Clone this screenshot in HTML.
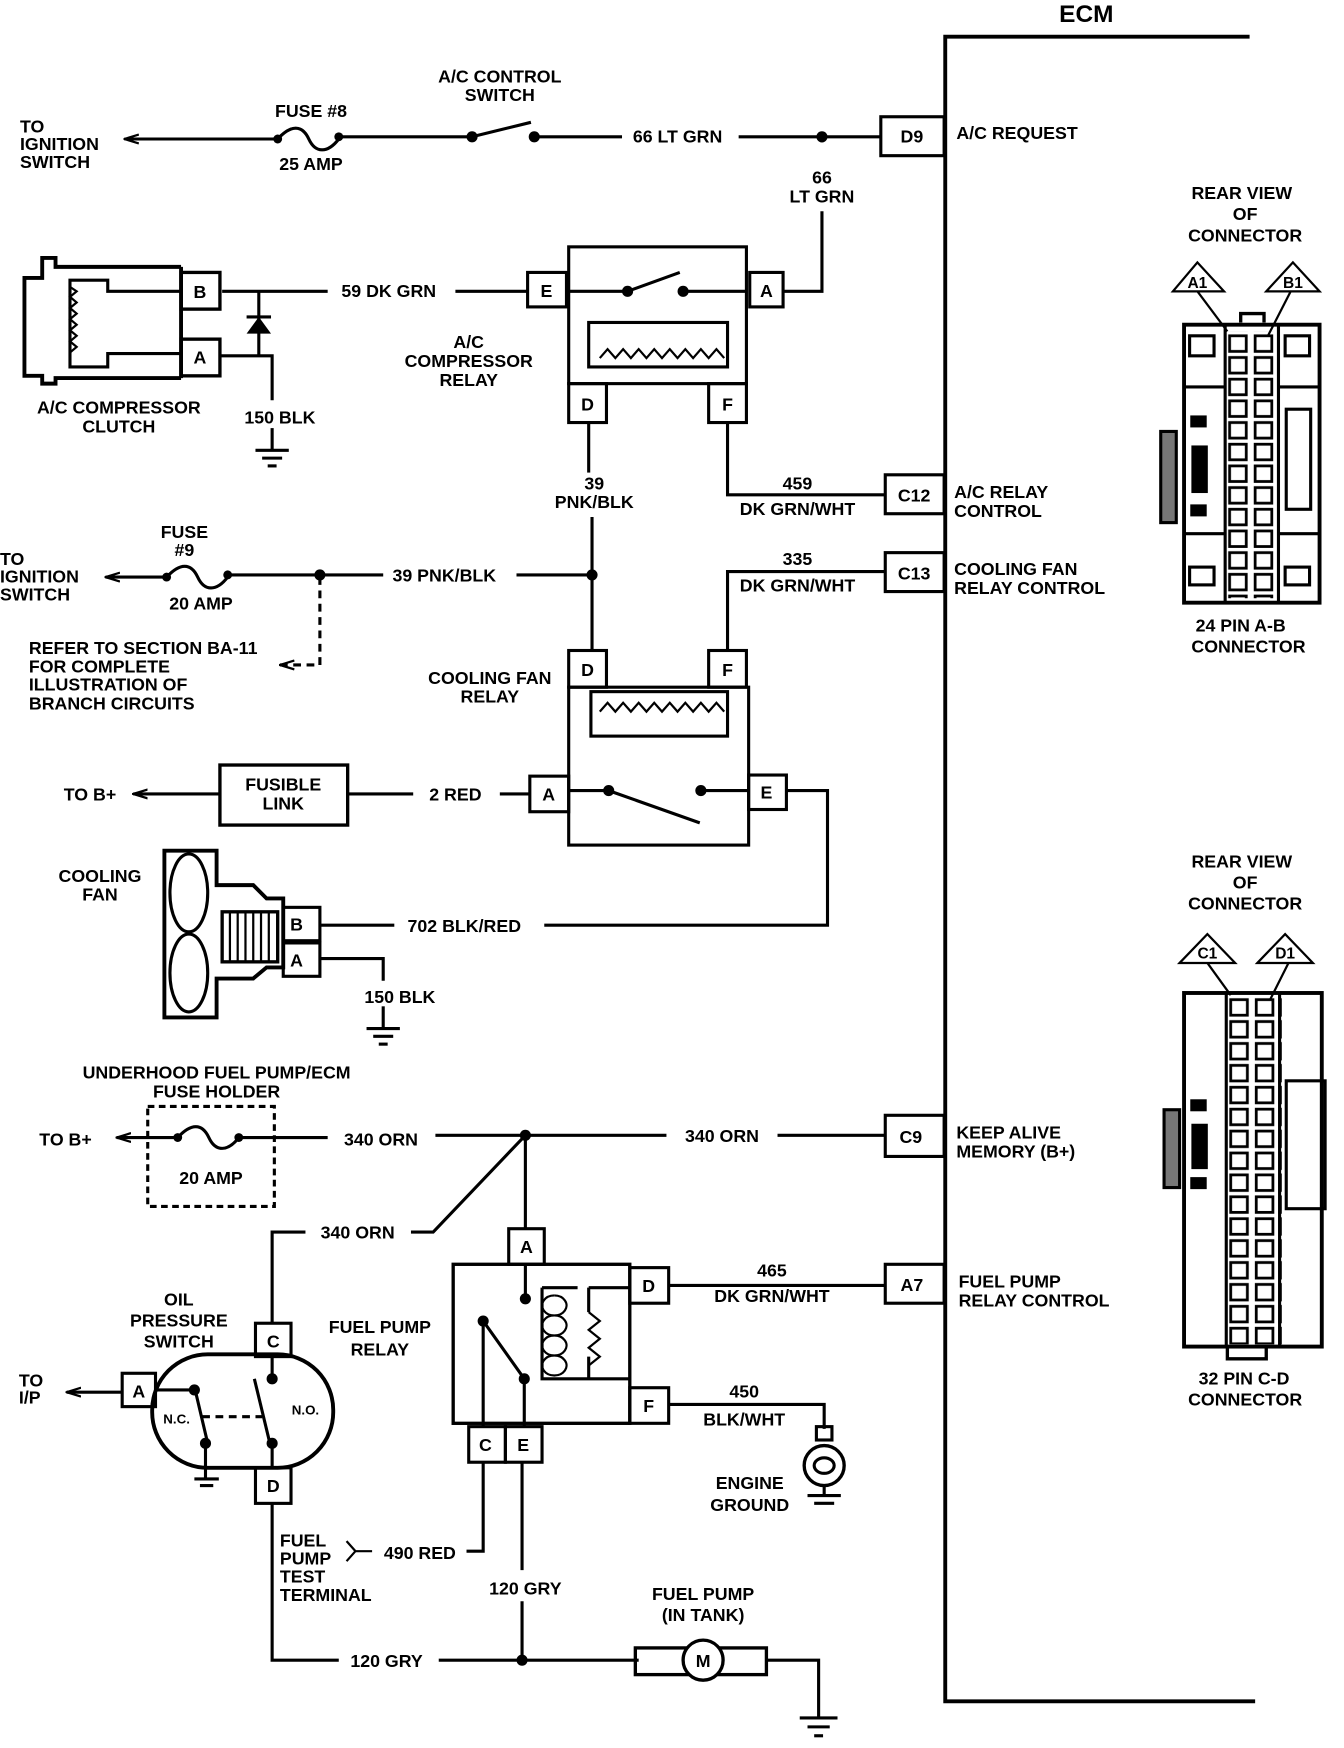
<!DOCTYPE html>
<html><head><meta charset="utf-8"><style>
html,body{margin:0;padding:0;background:#fff;}
svg{display:block;}
text{font-family:"Liberation Sans",sans-serif;font-weight:bold;font-size:16px;fill:#000;text-anchor:middle;}
.l{text-anchor:start;}
</style></head><body>
<svg width="1344" height="1748" viewBox="0 0 1210 1572" preserveAspectRatio="none" xmlns="http://www.w3.org/2000/svg">
<defs>
<marker id="ar" markerWidth="14" markerHeight="10" refX="1" refY="5" orient="auto" markerUnits="userSpaceOnUse"><path d="M14,1 L1,5 L14,9" fill="none" stroke="#000" stroke-width="2"/></marker>
<pattern id="pins" x="1105" y="300" width="23" height="19.5" patternUnits="userSpaceOnUse"><rect x="2" y="2" width="15" height="14" fill="#fff" stroke="#000" stroke-width="2.5"/></pattern>
<pattern id="pins2" x="1106" y="897" width="23" height="19.7" patternUnits="userSpaceOnUse"><rect x="2" y="2" width="15" height="14" fill="#fff" stroke="#000" stroke-width="2.5"/></pattern>
</defs>
<g fill="none" stroke="#000" stroke-width="2.8">
<path d="M1125,33 H851 V1530 H1130" stroke-width="3.5"/>
<line x1="112" y1="125" x2="250" y2="125" marker-start="url(#ar)"/>
<path d="M250,125 C262,112 272,112 278,125 S295,138 305,125"/>
<line x1="305" y1="123" x2="425" y2="123"/>
<line x1="425" y1="123" x2="478" y2="110"/>
<line x1="481" y1="123" x2="560" y2="123"/>
<line x1="665" y1="123" x2="793" y2="123"/>
<rect x="793" y="105" width="57" height="35"/>
<path d="M740,123 V128"/>
<path d="M740,190 V262 H705"/>
<rect x="512" y="222" width="160" height="123"/>
<rect x="475" y="245" width="35" height="31"/>
<rect x="675" y="245" width="30" height="31"/>
<rect x="512" y="345" width="34" height="35"/>
<rect x="638" y="345" width="34" height="35"/>
<path d="M512,262 H565 L612,245"/>
<path d="M615,262 H672"/>
<rect x="530" y="290" width="125" height="40"/>
<path d="M540,322 l7,-8 7,8 7,-8 7,8 7,-8 7,8 7,-8 7,8 7,-8 7,8 7,-8 7,8 7,-8 7,8 7,-8 7,8" stroke-width="2"/>
<line x1="410" y1="262" x2="475" y2="262"/>
<line x1="200" y1="262" x2="295" y2="262"/>
<path d="M163,240 H50 V232 H38 V250 H22 V338 H38 V345 H50 V340 H163" stroke-width="3.5"/>
<path d="M163,262 H97 V252 H63 V330 H97 V318 H163"/>
<path d="M63,258 l6,4 -6,5 6,5 -6,5 6,5 -6,5 6,5 -6,5 6,5 -6,5 6,5 -6,5" stroke-width="2"/>
<line x1="163" y1="240" x2="163" y2="340" stroke-width="3.5"/>
<rect x="163" y="245" width="35" height="33" stroke-width="3"/>
<rect x="163" y="305" width="35" height="33" stroke-width="3"/>
<line x1="233" y1="262" x2="233" y2="320"/>
<line x1="222" y1="285" x2="244" y2="285"/>
<path d="M198,320 H245 V360"/>
<line x1="245" y1="385" x2="245" y2="405"/>
<line x1="230" y1="405" x2="260" y2="405"/><line x1="236" y1="412" x2="254" y2="412"/><line x1="241" y1="419" x2="249" y2="419"/>
<line x1="530" y1="380" x2="530" y2="425"/>
<line x1="533" y1="465" x2="533" y2="585"/>
<path d="M655,380 V445 H797"/>
<rect x="797" y="427" width="53" height="35"/>
<path d="M655,585 V514 H797"/>
<rect x="797" y="497" width="53" height="35"/>
<line x1="95" y1="519" x2="150" y2="519" marker-start="url(#ar)"/>
<path d="M150,519 C162,506 172,506 178,519 S195,532 205,519"/>
<line x1="205" y1="517" x2="345" y2="517"/>
<line x1="465" y1="517" x2="533" y2="517"/>
<path d="M252,598 H288 V517" stroke-dasharray="7,5" marker-start="url(#ar)"/>
<rect x="512" y="618" width="162" height="142"/>
<rect x="512" y="585" width="34" height="33"/>
<rect x="638" y="585" width="34" height="33"/>
<rect x="532" y="622" width="123" height="40"/>
<path d="M540,640 l7,-8 7,8 7,-8 7,8 7,-8 7,8 7,-8 7,8 7,-8 7,8 7,-8 7,8 7,-8 7,8 7,-8 7,8" stroke-width="2"/>
<rect x="477" y="698" width="35" height="32"/>
<rect x="674" y="697" width="34" height="31"/>
<path d="M512,711 H548 L630,740"/>
<path d="M631,711 H674"/>
<path d="M708,711 H745 V832 H490"/>
<rect x="198" y="688" width="115" height="54" stroke-width="3"/>
<line x1="120" y1="714" x2="198" y2="714" marker-start="url(#ar)"/>
<line x1="313" y1="714" x2="372" y2="714"/>
<line x1="450" y1="714" x2="477" y2="714"/>
<path d="M255,808 H240 L228,796 H195 V765 H148 V915 H195 V880 H228 L240,870 H255 Z" stroke-width="3.5"/>
<ellipse cx="170" cy="803" rx="17" ry="35"/>
<ellipse cx="170" cy="875" rx="17" ry="35"/>
<rect x="200" y="820" width="50" height="45" stroke-width="3"/>
<path d="M207,820 V865 M214,820 V865 M221,820 V865 M228,820 V865 M235,820 V865 M242,820 V865" stroke-width="2"/>
<rect x="255" y="816" width="33" height="30"/>
<rect x="255" y="848" width="33" height="30"/>
<line x1="288" y1="832" x2="355" y2="832"/>
<path d="M288,862 H345 V882"/>
<line x1="345" y1="905" x2="345" y2="925"/>
<line x1="330" y1="925" x2="360" y2="925"/><line x1="336" y1="932" x2="354" y2="932"/><line x1="341" y1="939" x2="349" y2="939"/>
<rect x="133" y="995" width="114" height="90" stroke-dasharray="6,4"/>
<line x1="105" y1="1023" x2="160" y2="1023" marker-start="url(#ar)"/>
<path d="M160,1023 C172,1010 182,1010 188,1023 S205,1036 215,1023"/>
<line x1="215" y1="1023" x2="295" y2="1023"/>
<line x1="392" y1="1021" x2="600" y2="1021"/>
<line x1="700" y1="1021" x2="797" y2="1021"/>
<rect x="797" y="1003" width="53" height="37"/>
<path d="M473,1021 L390,1108 H370"/>
<path d="M275,1108 H245 V1190"/>
<line x1="473" y1="1021" x2="473" y2="1105"/>
<rect x="458" y="1105" width="32" height="32"/>
<rect x="408" y="1137" width="159" height="143" stroke-width="3"/>
<rect x="567" y="1140" width="35" height="32"/>
<rect x="567" y="1248" width="35" height="32"/>
<rect x="422" y="1283" width="33" height="32"/>
<rect x="455" y="1283" width="33" height="32"/>
<line x1="473" y1="1137" x2="473" y2="1168"/>
<path d="M435,1283 V1188 L472,1240 M472,1240 V1283"/>
<path d="M488,1158 V1240 H567 M488,1158 H520 M530,1158 H567 M530,1158 V1180 M530,1240 V1220"/>
<path d="M530,1180 l10,8 -10,8 10,8 -10,8 10,8 -10,8" stroke-width="2"/>
<path d="M499,1165 a11,9 0 1,0 0.1,0 M499,1183 a11,9 0 1,0 0.1,0 M499,1201 a11,9 0 1,0 0.1,0 M499,1219 a11,9 0 1,0 0.1,0" stroke-width="2"/>
<line x1="602" y1="1156" x2="797" y2="1156"/>
<rect x="797" y="1137" width="53" height="35"/>
<path d="M602,1263 H742 V1285"/>
<rect x="735" y="1283" width="14" height="12"/>
<circle cx="742" cy="1318" r="18" stroke-width="3"/>
<ellipse cx="742" cy="1318" rx="9" ry="7"/>
<path d="M742,1336 V1345"/>
<line x1="727" y1="1345" x2="757" y2="1345"/><line x1="733" y1="1352" x2="751" y2="1352"/>
<rect x="137" y="1218" width="163" height="102" rx="50" stroke-width="3.5"/>
<rect x="230" y="1190" width="32" height="30"/>
<rect x="110" y="1235" width="30" height="30"/>
<rect x="230" y="1320" width="32" height="32"/>
<line x1="60" y1="1252" x2="110" y2="1252" marker-start="url(#ar)"/>
<path d="M140,1250 H172"/>
<line x1="175" y1="1247" x2="187" y2="1298"/>
<line x1="185" y1="1298" x2="185" y2="1330"/>
<line x1="229" y1="1240" x2="243" y2="1298"/>
<line x1="245" y1="1220" x2="245" y2="1240"/>
<line x1="245" y1="1298" x2="245" y2="1320"/>
<line x1="182" y1="1274" x2="236" y2="1274" stroke-dasharray="7,5"/>
<line x1="175" y1="1330" x2="197" y2="1330"/><line x1="180" y1="1336" x2="192" y2="1336"/>
<path d="M435,1315 V1395 H420"/>
<path d="M312,1386 L320,1395 L312,1404 M320,1395 H335" stroke-width="2"/>
<path d="M470,1315 V1412 M470,1440 V1493"/>
<path d="M245,1352 V1493 H305"/>
<line x1="395" y1="1493" x2="575" y2="1493"/>
<rect x="572" y="1482" width="118" height="24" stroke-width="3"/>
<circle cx="633" cy="1493" r="18" fill="#fff" stroke-width="3"/>
<path d="M690,1493 H737 V1545"/>
<line x1="720" y1="1545" x2="754" y2="1545"/><line x1="727" y1="1553" x2="747" y2="1553"/><line x1="733" y1="1561" x2="741" y2="1561"/>
<path d="M1056,262 L1078,236 L1102,262 Z M1140,262 L1164,236 L1188,262 Z" stroke-width="2"/>
<line x1="1078" y1="262" x2="1105" y2="298" stroke-width="2"/>
<line x1="1162" y1="262" x2="1140" y2="305" stroke-width="2"/>
<rect x="1066" y="292" width="122" height="250" stroke-width="3.5"/>
<rect x="1102" y="298" width="50" height="240" fill="url(#pins)" stroke="none"/>
<line x1="1103" y1="292" x2="1103" y2="542"/><line x1="1151" y1="292" x2="1151" y2="542"/>
<path d="M1066,348 H1103 M1151,348 H1188 M1066,480 H1103 M1151,480 H1188"/>
<rect x="1071" y="302" width="22" height="18"/><rect x="1157" y="302" width="22" height="18"/>
<rect x="1071" y="510" width="22" height="16"/><rect x="1157" y="510" width="22" height="16"/>
<rect x="1158" y="368" width="22" height="90"/>
<rect x="1045" y="388" width="14" height="82" fill="#777"/>
<rect x="1073" y="375" width="12" height="8" fill="#000"/><rect x="1074" y="402" width="12" height="40" fill="#000"/><rect x="1073" y="455" width="12" height="8" fill="#000"/>
<path d="M1117,290 V282 H1138 V290" stroke-width="3"/>
<path d="M1062,866 L1087,840 L1112,866 Z M1132,866 L1157,840 L1182,866 Z" stroke-width="2"/>
<line x1="1087" y1="866" x2="1108" y2="895" stroke-width="2"/>
<line x1="1160" y1="866" x2="1143" y2="900" stroke-width="2"/>
<rect x="1066" y="893" width="124" height="318" stroke-width="3.5"/>
<rect x="1104" y="895" width="50" height="314" fill="url(#pins2)" stroke="none"/>
<line x1="1104" y1="893" x2="1104" y2="1210"/><line x1="1152" y1="893" x2="1152" y2="1210"/>
<rect x="1158" y="972" width="35" height="115"/>
<rect x="1048" y="998" width="14" height="70" fill="#777"/>
<rect x="1073" y="990" width="12" height="8" fill="#000"/><rect x="1074" y="1012" width="12" height="38" fill="#000"/><rect x="1073" y="1060" width="12" height="8" fill="#000"/>
<path d="M1105,1212 V1222 H1140 V1212" stroke-width="3"/>
</g>
<g fill="#000">
<circle cx="250" cy="125" r="4"/><circle cx="305" cy="123" r="4"/>
<circle cx="425" cy="123" r="5"/><circle cx="481" cy="123" r="5"/><circle cx="740" cy="123" r="5"/>
<circle cx="565" cy="262" r="5"/><circle cx="615" cy="262" r="5"/>
<path d="M222,300 L244,300 L233,285 Z"/>
<circle cx="150" cy="519" r="4"/><circle cx="205" cy="517" r="4"/><circle cx="288" cy="517" r="5"/><circle cx="533" cy="517" r="5"/>
<circle cx="548" cy="711" r="5"/><circle cx="631" cy="711" r="5"/>
<circle cx="160" cy="1023" r="4"/><circle cx="215" cy="1023" r="4"/><circle cx="473" cy="1021" r="5"/>
<circle cx="473" cy="1168" r="5"/><circle cx="435" cy="1188" r="5"/><circle cx="472" cy="1240" r="5"/>
<circle cx="175" cy="1250" r="5"/><circle cx="185" cy="1298" r="5"/><circle cx="245" cy="1240" r="5"/><circle cx="245" cy="1298" r="5"/>
<circle cx="470" cy="1493" r="5"/>
</g>
<text x="978" y="20" style="font-size:22px">ECM</text>
<text class="l" x="18" y="119">TO</text><text class="l" x="18" y="135">IGNITION</text><text class="l" x="18" y="151">SWITCH</text>
<text x="280" y="105">FUSE #8</text><text x="280" y="153">25 AMP</text>
<text x="450" y="74">A/C CONTROL</text><text x="450" y="91">SWITCH</text>
<text x="610" y="128">66 LT GRN</text>
<text x="821" y="128">D9</text>
<text class="l" x="861" y="125">A/C REQUEST</text>
<text x="740" y="165">66</text><text x="740" y="182">LT GRN</text>
<text x="350" y="267">59 DK GRN</text>
<text x="492" y="267">E</text><text x="690" y="267">A</text>
<text x="422" y="313">A/C</text><text x="422" y="330">COMPRESSOR</text><text x="422" y="347">RELAY</text>
<text x="529" y="369">D</text><text x="655" y="369">F</text>
<text x="180" y="268">B</text><text x="180" y="327">A</text>
<text x="107" y="372">A/C COMPRESSOR</text><text x="107" y="389">CLUTCH</text>
<text x="252" y="381">150 BLK</text>
<text x="535" y="440">39</text><text x="535" y="457">PNK/BLK</text>
<text x="718" y="440">459</text><text x="718" y="463">DK GRN/WHT</text>
<text x="823" y="451">C12</text>
<text class="l" x="859" y="448">A/C RELAY</text><text class="l" x="859" y="465">CONTROL</text>
<text x="718" y="508">335</text><text x="718" y="532">DK GRN/WHT</text>
<text x="823" y="521">C13</text>
<text class="l" x="859" y="517">COOLING FAN</text><text class="l" x="859" y="534">RELAY CONTROL</text>
<text x="166" y="484">FUSE</text><text x="166" y="500">#9</text><text x="181" y="548">20 AMP</text>
<text class="l" x="0" y="508">TO</text><text class="l" x="0" y="524">IGNITION</text><text class="l" x="0" y="540">SWITCH</text>
<text x="400" y="523">39 PNK/BLK</text>
<text class="l" x="26" y="588">REFER TO SECTION BA-11</text><text class="l" x="26" y="605">FOR COMPLETE</text><text class="l" x="26" y="621">ILLUSTRATION OF</text><text class="l" x="26" y="638">BRANCH CIRCUITS</text>
<text x="441" y="615">COOLING FAN</text><text x="441" y="632">RELAY</text>
<text x="529" y="608">D</text><text x="655" y="608">F</text>
<text x="494" y="720">A</text><text x="690" y="718">E</text>
<text x="81" y="720">TO B+</text>
<text x="255" y="711">FUSIBLE</text><text x="255" y="728">LINK</text>
<text x="410" y="720">2 RED</text>
<text x="90" y="793">COOLING</text><text x="90" y="810">FAN</text>
<text x="267" y="837">B</text><text x="267" y="869">A</text>
<text x="418" y="838">702 BLK/RED</text>
<text x="360" y="902">150 BLK</text>
<text x="195" y="970">UNDERHOOD FUEL PUMP/ECM</text><text x="195" y="987">FUSE HOLDER</text>
<text x="59" y="1030">TO B+</text>
<text x="190" y="1065">20 AMP</text>
<text x="343" y="1030">340 ORN</text>
<text x="650" y="1027">340 ORN</text>
<text x="820" y="1028">C9</text>
<text class="l" x="861" y="1024">KEEP ALIVE</text><text class="l" x="861" y="1041">MEMORY (B+)</text>
<text x="322" y="1114">340 ORN</text>
<text x="474" y="1127">A</text>
<text x="584" y="1162">D</text><text x="584" y="1270">F</text>
<text x="437" y="1305">C</text><text x="471" y="1305">E</text>
<text x="695" y="1148">465</text><text x="695" y="1171">DK GRN/WHT</text>
<text x="821" y="1161">A7</text>
<text class="l" x="863" y="1158">FUEL PUMP</text><text class="l" x="863" y="1175">RELAY CONTROL</text>
<text x="342" y="1199">FUEL PUMP</text><text x="342" y="1219">RELAY</text>
<text x="670" y="1257">450</text><text x="670" y="1282">BLK/WHT</text>
<text x="675" y="1339">ENGINE</text><text x="675" y="1359">GROUND</text>
<text x="161" y="1174">OIL</text><text x="161" y="1193">PRESSURE</text><text x="161" y="1212">SWITCH</text>
<text x="246" y="1212">C</text><text x="125" y="1257">A</text><text x="246" y="1342">D</text>
<text x="159" y="1280" style="font-size:12px">N.C.</text><text x="275" y="1272" style="font-size:12px">N.O.</text>
<text class="l" x="17" y="1247">TO</text><text class="l" x="17" y="1262">I/P</text>
<text class="l" x="252" y="1391">FUEL</text><text class="l" x="252" y="1407">PUMP</text><text class="l" x="252" y="1423">TEST</text><text class="l" x="252" y="1440">TERMINAL</text>
<text x="378" y="1402">490 RED</text>
<text x="473" y="1434">120 GRY</text>
<text x="348" y="1499">120 GRY</text>
<text x="633" y="1439">FUEL PUMP</text><text x="633" y="1458">(IN TANK)</text>
<text x="633" y="1499">M</text>
<text x="1118" y="179">REAR VIEW</text><text x="1121" y="198">OF</text><text x="1121" y="217">CONNECTOR</text>
<text x="1078" y="259" style="font-size:14px">A1</text><text x="1164" y="259" style="font-size:14px">B1</text>
<text x="1117" y="568">24 PIN  A-B</text><text x="1124" y="587">CONNECTOR</text>
<text x="1118" y="780">REAR VIEW</text><text x="1121" y="799">OF</text><text x="1121" y="818">CONNECTOR</text>
<text x="1087" y="862" style="font-size:14px">C1</text><text x="1157" y="862" style="font-size:14px">D1</text>
<text x="1120" y="1245">32  PIN C-D</text><text x="1121" y="1264">CONNECTOR</text>
</svg>
</body></html>
